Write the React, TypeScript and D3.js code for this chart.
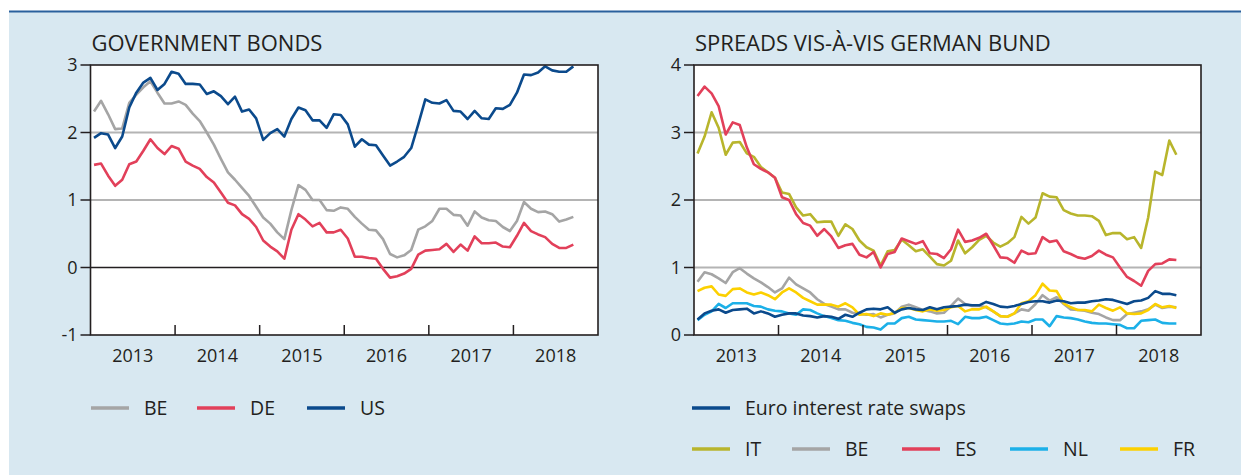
import React, { Component } from 'react';
import * as d3 from 'd3';

// monthly observations, Jan 2013 - Sep 2018
const yearLabels = ['2013', '2014', '2015', '2016', '2017', '2018'];

// government bond yields (%)
const bondBE = [2.31, 2.47, 2.27, 2.05, 2.06, 2.44, 2.56, 2.67, 2.76, 2.59, 2.43, 2.43, 2.46, 2.41, 2.28, 2.17, 2.00, 1.82, 1.61, 1.41, 1.30, 1.18, 1.06, 0.90, 0.74, 0.65, 0.52, 0.42, 0.85, 1.22, 1.15, 1.00, 1.00, 0.85, 0.84, 0.89, 0.87, 0.75, 0.65, 0.56, 0.55, 0.42, 0.20, 0.15, 0.18, 0.26, 0.56, 0.61, 0.69, 0.87, 0.87, 0.78, 0.77, 0.62, 0.83, 0.74, 0.70, 0.69, 0.60, 0.54, 0.69, 0.97, 0.87, 0.82, 0.83, 0.79, 0.68, 0.71, 0.75];
const bondDE = [1.52, 1.54, 1.36, 1.21, 1.30, 1.53, 1.57, 1.73, 1.90, 1.77, 1.68, 1.80, 1.76, 1.57, 1.51, 1.46, 1.34, 1.26, 1.11, 0.96, 0.92, 0.79, 0.72, 0.60, 0.40, 0.31, 0.24, 0.13, 0.56, 0.79, 0.71, 0.61, 0.66, 0.52, 0.52, 0.56, 0.43, 0.16, 0.16, 0.14, 0.13, -0.02, -0.15, -0.13, -0.09, -0.02, 0.19, 0.25, 0.26, 0.27, 0.35, 0.23, 0.34, 0.25, 0.46, 0.36, 0.36, 0.37, 0.31, 0.30, 0.47, 0.66, 0.54, 0.49, 0.45, 0.35, 0.29, 0.29, 0.34];
const bondUS = [1.92, 1.99, 1.97, 1.77, 1.94, 2.37, 2.59, 2.74, 2.81, 2.63, 2.72, 2.90, 2.87, 2.72, 2.72, 2.71, 2.57, 2.61, 2.54, 2.42, 2.53, 2.31, 2.34, 2.21, 1.89, 1.99, 2.05, 1.94, 2.20, 2.37, 2.33, 2.18, 2.18, 2.07, 2.27, 2.26, 2.12, 1.79, 1.90, 1.82, 1.81, 1.66, 1.51, 1.57, 1.64, 1.77, 2.12, 2.49, 2.44, 2.43, 2.48, 2.32, 2.31, 2.20, 2.32, 2.21, 2.20, 2.36, 2.35, 2.41, 2.59, 2.86, 2.85, 2.89, 2.98, 2.92, 2.90, 2.90, 2.98];

// spreads vis-a-vis German Bund (percentage points)
const spreadIT = [2.69, 2.94, 3.30, 3.07, 2.67, 2.85, 2.86, 2.69, 2.64, 2.49, 2.41, 2.33, 2.11, 2.09, 1.89, 1.77, 1.79, 1.67, 1.68, 1.68, 1.47, 1.64, 1.57, 1.40, 1.30, 1.25, 1.03, 1.24, 1.26, 1.41, 1.33, 1.24, 1.27, 1.16, 1.05, 1.03, 1.10, 1.40, 1.21, 1.30, 1.41, 1.47, 1.37, 1.31, 1.36, 1.45, 1.75, 1.65, 1.74, 2.10, 2.05, 2.04, 1.85, 1.80, 1.77, 1.77, 1.76, 1.69, 1.48, 1.51, 1.51, 1.42, 1.45, 1.29, 1.74, 2.42, 2.37, 2.88, 2.67];
const spreadES = [3.54, 3.68, 3.58, 3.39, 2.97, 3.15, 3.11, 2.78, 2.53, 2.46, 2.41, 2.33, 2.04, 2.00, 1.79, 1.66, 1.62, 1.47, 1.57, 1.46, 1.29, 1.33, 1.35, 1.19, 1.15, 1.23, 1.00, 1.20, 1.23, 1.43, 1.39, 1.35, 1.39, 1.21, 1.20, 1.14, 1.27, 1.56, 1.38, 1.40, 1.44, 1.50, 1.33, 1.15, 1.14, 1.07, 1.25, 1.20, 1.21, 1.45, 1.38, 1.40, 1.24, 1.20, 1.15, 1.13, 1.17, 1.25, 1.19, 1.15, 1.00, 0.86, 0.80, 0.73, 0.95, 1.05, 1.06, 1.12, 1.11];
const spreadBE = [0.79, 0.93, 0.90, 0.84, 0.77, 0.93, 0.99, 0.91, 0.84, 0.78, 0.71, 0.63, 0.69, 0.85, 0.75, 0.69, 0.63, 0.53, 0.46, 0.42, 0.38, 0.38, 0.33, 0.31, 0.30, 0.31, 0.26, 0.30, 0.32, 0.42, 0.45, 0.41, 0.37, 0.35, 0.32, 0.33, 0.43, 0.54, 0.46, 0.43, 0.43, 0.41, 0.35, 0.28, 0.27, 0.32, 0.38, 0.36, 0.46, 0.59, 0.51, 0.56, 0.46, 0.38, 0.37, 0.36, 0.33, 0.31, 0.26, 0.22, 0.22, 0.31, 0.33, 0.35, 0.38, 0.45, 0.40, 0.42, 0.41];
const spreadNL = [0.22, 0.30, 0.35, 0.46, 0.40, 0.47, 0.47, 0.47, 0.43, 0.42, 0.38, 0.36, 0.35, 0.32, 0.30, 0.38, 0.37, 0.32, 0.28, 0.25, 0.22, 0.21, 0.18, 0.16, 0.12, 0.11, 0.08, 0.17, 0.17, 0.25, 0.27, 0.23, 0.22, 0.21, 0.20, 0.20, 0.21, 0.16, 0.27, 0.25, 0.25, 0.27, 0.22, 0.17, 0.16, 0.17, 0.20, 0.19, 0.23, 0.23, 0.13, 0.28, 0.26, 0.25, 0.23, 0.20, 0.18, 0.17, 0.17, 0.16, 0.15, 0.10, 0.10, 0.21, 0.22, 0.23, 0.18, 0.17, 0.17];
const spreadFR = [0.65, 0.70, 0.72, 0.60, 0.58, 0.68, 0.69, 0.63, 0.60, 0.63, 0.59, 0.53, 0.63, 0.69, 0.63, 0.55, 0.50, 0.45, 0.45, 0.45, 0.42, 0.47, 0.41, 0.30, 0.31, 0.28, 0.32, 0.30, 0.33, 0.40, 0.40, 0.37, 0.35, 0.38, 0.36, 0.37, 0.41, 0.43, 0.35, 0.38, 0.38, 0.42, 0.35, 0.28, 0.27, 0.32, 0.47, 0.50, 0.59, 0.76, 0.66, 0.65, 0.47, 0.41, 0.37, 0.37, 0.35, 0.45, 0.40, 0.36, 0.41, 0.32, 0.31, 0.32, 0.37, 0.46, 0.41, 0.43, 0.40];
const euroSwaps = [0.23, 0.32, 0.36, 0.38, 0.33, 0.37, 0.38, 0.39, 0.32, 0.35, 0.32, 0.27, 0.30, 0.32, 0.32, 0.29, 0.28, 0.26, 0.28, 0.27, 0.24, 0.30, 0.27, 0.33, 0.38, 0.39, 0.38, 0.41, 0.33, 0.38, 0.40, 0.38, 0.37, 0.41, 0.38, 0.41, 0.42, 0.43, 0.45, 0.44, 0.44, 0.49, 0.46, 0.42, 0.41, 0.43, 0.46, 0.49, 0.50, 0.50, 0.48, 0.51, 0.50, 0.47, 0.48, 0.48, 0.50, 0.51, 0.53, 0.52, 0.49, 0.46, 0.50, 0.51, 0.55, 0.65, 0.61, 0.61, 0.59];

const C = {
    navy: '#0b4a8c',
    red: '#e2405a',
    grey: '#a5a5a5',
    olive: '#b8b52c',
    cyan: '#1cb0e8',
    yellow: '#fcd000',
};

const FONT = "'Open Sans', sans-serif";
const TXT = '#231f20';

class App extends Component {
    chartRef = React.createRef<SVGSVGElement>();

    componentDidMount() {
        this.createChart();
    }

    componentDidUpdate() {
        this.createChart();
    }

    drawPanel(svg, opts) {
        const { left, right, top, bottom, yDomain, yTicks, title, series } = opts;
        const x = d3.scaleLinear().domain([0, 72]).range([left, right]);
        const y = d3.scaleLinear().domain(yDomain).range([bottom, top]);
        const g = svg.append('g');

        g.append('text')
            .attr('x', left + 1)
            .attr('y', 51)
            .attr('font-family', FONT)
            .attr('font-size', 22)
            .attr('fill', TXT)
            .text(title);

        g.append('rect')
            .attr('x', left).attr('y', top)
            .attr('width', right - left).attr('height', bottom - top)
            .attr('fill', '#fff');

        // gridlines
        g.selectAll('.grid')
            .data(yTicks.filter(v => v !== yDomain[0] && v !== yDomain[1]))
            .join('line')
            .attr('x1', left).attr('x2', right)
            .attr('y1', d => y(d)).attr('y2', d => y(d))
            .attr('stroke', d => (d === 0 ? '#231f20' : '#b4b4b4'))
            .attr('stroke-width', d => (d === 0 ? 1.5 : 1.8));

        const line = d3.line<number>()
            .x((d, i) => x(i + 0.5))
            .y(d => y(d));

        series.forEach(s => {
            g.append('path')
                .datum(s.values)
                .attr('fill', 'none')
                .attr('stroke', s.color)
                .attr('stroke-width', 2.6)
                .attr('stroke-linejoin', 'round')
                .attr('d', line);
        });

        g.append('rect')
            .attr('x', left).attr('y', top)
            .attr('width', right - left).attr('height', bottom - top)
            .attr('fill', 'none')
            .attr('stroke', '#231f20')
            .attr('stroke-width', 1.6);

        // y axis
        g.selectAll('.ytick')
            .data(yTicks)
            .join('line')
            .attr('x1', left - 10).attr('x2', left)
            .attr('y1', d => y(d)).attr('y2', d => y(d))
            .attr('stroke', '#231f20')
            .attr('stroke-width', 1.5);

        g.selectAll('.ylab')
            .data(yTicks)
            .join('text')
            .attr('x', left - 13)
            .attr('y', d => y(d))
            .attr('dy', '0.36em')
            .attr('text-anchor', 'end')
            .attr('font-family', FONT)
            .attr('font-size', 18)
            .attr('fill', TXT)
            .text(d => d3.format('d')(d).replace('−', '-'));

        // x axis: year boundaries as inner ticks, labels centred in each year
        g.selectAll('.xtick')
            .data(d3.range(1, yearLabels.length))
            .join('line')
            .attr('x1', d => x(d * 12)).attr('x2', d => x(d * 12))
            .attr('y1', bottom).attr('y2', bottom - 10)
            .attr('stroke', '#231f20')
            .attr('stroke-width', 1.5);

        g.selectAll('.xlab')
            .data(yearLabels)
            .join('text')
            .attr('x', (d, i) => x(i * 12 + 6))
            .attr('y', bottom + 27)
            .attr('text-anchor', 'middle')
            .attr('font-family', FONT)
            .attr('font-size', 18)
            .attr('fill', TXT)
            .text(d => d);
    }

    drawLegend(svg, items, y) {
        items.forEach(it => {
            svg.append('line')
                .attr('x1', it.x).attr('x2', it.x + 38)
                .attr('y1', y).attr('y2', y)
                .attr('stroke', it.color)
                .attr('stroke-width', 3.5);
            svg.append('text')
                .attr('x', it.x + 53)
                .attr('y', y)
                .attr('dy', '0.36em')
                .attr('font-family', FONT)
                .attr('font-size', 19.5)
                .attr('fill', TXT)
                .text(it.label);
        });
    }

    createChart() {
        const width = 1241;
        const height = 475;
        const svg = d3.select(this.chartRef.current)
            .attr('width', width)
            .attr('height', height);

        svg.selectAll('*').remove();

        svg.append('rect').attr('width', width).attr('height', height).attr('fill', '#fff');
        svg.append('rect')
            .attr('x', 9).attr('y', 12)
            .attr('width', width - 9).attr('height', height - 12)
            .attr('fill', '#d8e8f1');
        svg.append('line')
            .attr('x1', 9).attr('x2', width)
            .attr('y1', 11.5).attr('y2', 11.5)
            .attr('stroke', '#2a609d')
            .attr('stroke-width', 2);

        this.drawPanel(svg, {
            left: 90.5, right: 598, top: 65, bottom: 335,
            yDomain: [-1, 3], yTicks: [-1, 0, 1, 2, 3],
            title: 'GOVERNMENT BONDS',
            series: [
                { values: bondBE, color: C.grey },
                { values: bondDE, color: C.red },
                { values: bondUS, color: C.navy },
            ],
        });

        this.drawPanel(svg, {
            left: 694, right: 1201, top: 65, bottom: 335,
            yDomain: [0, 4], yTicks: [0, 1, 2, 3, 4],
            title: 'SPREADS VIS-À-VIS GERMAN BUND',
            series: [
                { values: spreadIT, color: C.olive },
                { values: spreadES, color: C.red },
                { values: spreadBE, color: C.grey },
                { values: spreadNL, color: C.cyan },
                { values: spreadFR, color: C.yellow },
                { values: euroSwaps, color: C.navy },
            ],
        });

        this.drawLegend(svg, [
            { x: 91, label: 'BE', color: C.grey },
            { x: 197, label: 'DE', color: C.red },
            { x: 307, label: 'US', color: C.navy },
        ], 408);

        this.drawLegend(svg, [
            { x: 692, label: 'Euro interest rate swaps', color: C.navy },
        ], 408);

        this.drawLegend(svg, [
            { x: 692, label: 'IT', color: C.olive },
            { x: 792, label: 'BE', color: C.grey },
            { x: 902, label: 'ES', color: C.red },
            { x: 1010, label: 'NL', color: C.cyan },
            { x: 1120, label: 'FR', color: C.yellow },
        ], 449);
    }

    render() {
        return (
            <svg
                ref={this.chartRef}
                style={{ position: 'absolute', left: 0, top: 0, display: 'block' }}
            ></svg>
        );
    }
}

export default App;
